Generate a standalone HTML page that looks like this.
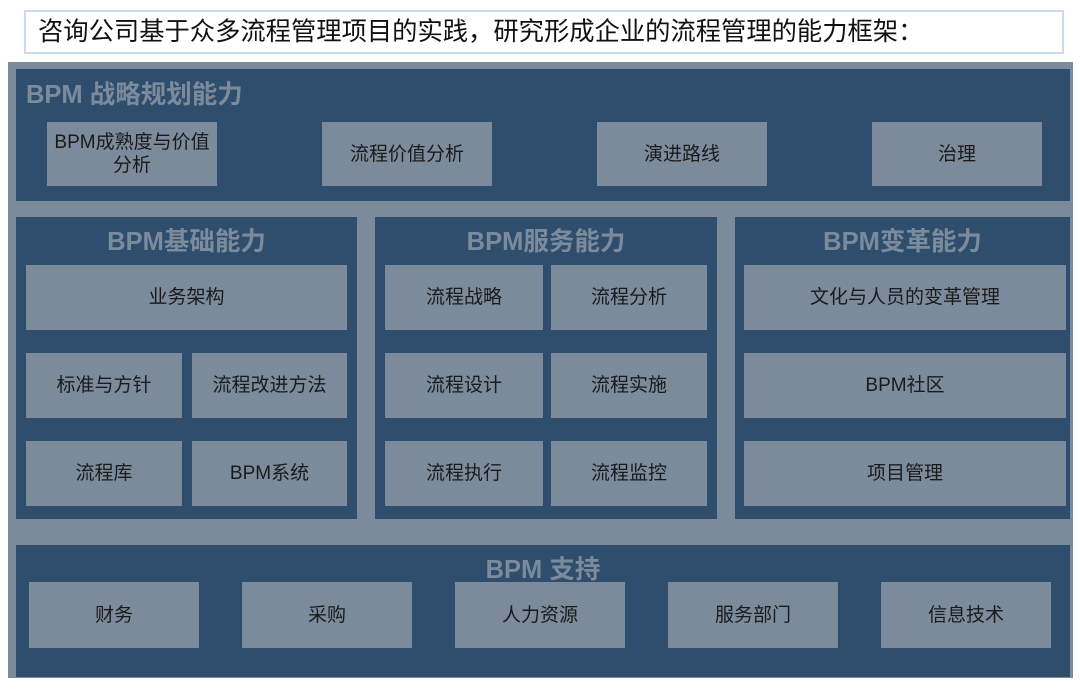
<!DOCTYPE html>
<html><head><meta charset="utf-8"><style>
*{margin:0;padding:0;box-sizing:border-box}
body{width:1080px;height:689px;background:#fff;position:relative;overflow:hidden;font-family:"Liberation Sans","Noto Sans CJK SC",sans-serif}
div{position:absolute}
.t{left:24px;top:10px;width:1040px;height:44px;border:2px solid #c8d9f0;font-size:25.3px;color:#111;padding-left:12px;line-height:40px;white-space:nowrap}
.o{left:8px;top:62px;width:1065px;height:616px;background:#7c8b9c}
.p{background:#2f4e6d}
.h{color:#7c8b9c;font-weight:bold;font-size:25.5px;line-height:28px;white-space:nowrap}
.b{background:#7c8b9c;color:#1a1a1a;font-size:19px;display:flex;align-items:center;justify-content:center;text-align:center;line-height:23px}
</style></head><body>
<div class="t">咨询公司基于众多流程管理项目的实践，研究形成企业的流程管理的能力框架：</div>
<div class="o"></div>
<div class="p" style="left:16px;top:69px;width:1054px;height:132px"></div>
<div class="h" style="left:26px;top:81px">BPM 战略规划能力</div>
<div class="b" style="left:47px;top:122px;width:170px;height:64px">BPM成熟度与价值<br>分析</div>
<div class="b" style="left:322px;top:122px;width:170px;height:64px">流程价值分析</div>
<div class="b" style="left:597px;top:122px;width:170px;height:64px">演进路线</div>
<div class="b" style="left:872px;top:122px;width:170px;height:64px">治理</div>

<div class="p" style="left:16px;top:217px;width:341px;height:302px"></div>
<div class="h" style="left:16px;top:228px;width:341px;text-align:center">BPM基础能力</div>
<div class="b" style="left:26px;top:265px;width:321px;height:65px">业务架构</div>
<div class="b" style="left:26px;top:353px;width:156px;height:65px">标准与方针</div>
<div class="b" style="left:192px;top:353px;width:155px;height:65px">流程改进方法</div>
<div class="b" style="left:26px;top:441px;width:156px;height:65px">流程库</div>
<div class="b" style="left:192px;top:441px;width:155px;height:65px">BPM系统</div>

<div class="p" style="left:375px;top:217px;width:342px;height:302px"></div>
<div class="h" style="left:375px;top:228px;width:342px;text-align:center">BPM服务能力</div>
<div class="b" style="left:385px;top:265px;width:158px;height:65px">流程战略</div>
<div class="b" style="left:551px;top:265px;width:156px;height:65px">流程分析</div>
<div class="b" style="left:385px;top:353px;width:158px;height:65px">流程设计</div>
<div class="b" style="left:551px;top:353px;width:156px;height:65px">流程实施</div>
<div class="b" style="left:385px;top:441px;width:158px;height:65px">流程执行</div>
<div class="b" style="left:551px;top:441px;width:156px;height:65px">流程监控</div>

<div class="p" style="left:735px;top:217px;width:335px;height:302px"></div>
<div class="h" style="left:735px;top:228px;width:335px;text-align:center">BPM变革能力</div>
<div class="b" style="left:744px;top:265px;width:322px;height:65px">文化与人员的变革管理</div>
<div class="b" style="left:744px;top:353px;width:322px;height:65px">BPM社区</div>
<div class="b" style="left:744px;top:441px;width:322px;height:65px">项目管理</div>

<div class="p" style="left:16px;top:545px;width:1054px;height:132px"></div>
<div class="h" style="left:16px;top:556px;width:1054px;text-align:center">BPM 支持</div>
<div class="b" style="left:29px;top:582px;width:170px;height:66px">财务</div>
<div class="b" style="left:242px;top:582px;width:170px;height:66px">采购</div>
<div class="b" style="left:455px;top:582px;width:170px;height:66px">人力资源</div>
<div class="b" style="left:668px;top:582px;width:170px;height:66px">服务部门</div>
<div class="b" style="left:881px;top:582px;width:170px;height:66px">信息技术</div>
</body></html>
